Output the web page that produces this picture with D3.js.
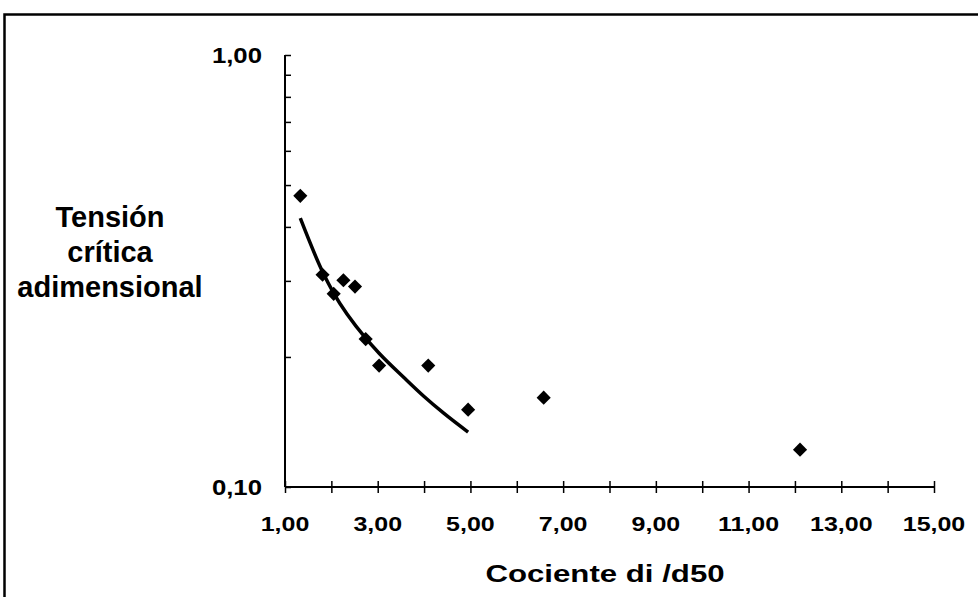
<!DOCTYPE html>
<html>
<head>
<meta charset="utf-8">
<script src="https://cdn.jsdelivr.net/npm/d3@7"></script>
<style>
  body { margin: 0; background: #fff; }
  text { font-family: Arial, "Liberation Sans", sans-serif; font-weight: bold; fill: #000; }
</style>
</head>
<body>
<script>
// measured points (cociente di/d50, tension critica adimensional)
const ratioX = [1.33, 1.81, 2.05, 2.26, 2.51, 2.74, 3.03, 4.09, 4.95, 6.58, 12.11];
const tensionY = [0.472, 0.310, 0.280, 0.301, 0.291, 0.220, 0.191, 0.191, 0.151, 0.161, 0.122];

// trend line
const trendX = [1.33, 1.81, 2.05, 2.74, 3.03, 3.57, 4.00, 4.43, 4.95];
const trendY = [0.419, 0.315, 0.281, 0.221, 0.204, 0.179, 0.162, 0.148, 0.134];

const xTicks = [1, 2, 3, 4, 5, 6, 7, 8, 9, 10, 11, 12, 13, 14, 15];
const xLabels = ["1,00", "", "3,00", "", "5,00", "", "7,00", "", "9,00", "", "11,00", "", "13,00", "", "15,00"];
const yTicks = [0.1, 0.2, 0.3, 0.4, 0.5, 0.6, 0.7, 0.8, 0.9, 1.0];
const yLabels = ["0,10", "", "", "", "", "", "", "", "", "1,00"];

let WIDTH = 978,
    HEIGHT = 597;

let svg = d3.select("body").append("svg")
  .attr("width", WIDTH)
  .attr("height", HEIGHT);

// frame (only top and left edges show)
svg.append("path")
  .attr("d", "M4.5," + HEIGHT + " V14.5 H" + WIDTH)
  .attr("fill", "none")
  .attr("stroke", "#000")
  .attr("stroke-width", 2.5);

let x = d3.scaleLinear().domain([1, 15]).range([285, 934]);
let y = d3.scaleLog().domain([0.1, 1]).range([487, 55]);

// x axis
let xAxis = svg.append("g")
  .attr("transform", "translate(0," + y(0.1) + ")")
  .call(d3.axisBottom(x).tickValues(xTicks).tickSize(6).tickFormat(""));
xAxis.select(".domain").attr("stroke-width", 2).attr("d", "M" + x(1) + ",0H" + x(15));
xAxis.selectAll(".tick line").attr("y1", -6).attr("stroke-width", 1.5);

xAxis.selectAll(".xlab")
  .data(xTicks)
  .enter().append("text")
    .attr("class", "xlab")
    .attr("transform", d => "translate(" + x(d) + ",44) scale(1.25,1)")
    .attr("text-anchor", "middle")
    .style("font-size", "20px")
    .text((d, i) => xLabels[i]);

// y axis
let yAxis = svg.append("g")
  .attr("transform", "translate(" + x(1) + ",0)")
  .call(d3.axisLeft(y).tickValues(yTicks).tickSize(6).tickFormat(""));
yAxis.select(".domain").attr("stroke-width", 2).attr("d", "M0," + y(0.1) + "V" + y(1));
yAxis.selectAll(".tick line").attr("x2", 6).attr("stroke-width", 1.5);

yAxis.selectAll(".ylab")
  .data(yTicks)
  .enter().append("text")
    .attr("class", "ylab")
    .attr("transform", d => "translate(-23," + (y(d) + 8) + ") scale(1.12,1)")
    .attr("text-anchor", "end")
    .style("font-size", "23px")
    .text((d, i) => yLabels[i]);

// axis titles
let yTitle = svg.append("text")
  .attr("text-anchor", "middle")
  .style("font-size", "29px");
["Tensión", "crítica", "adimensional"].forEach((t, i) => {
  yTitle.append("tspan")
    .attr("x", 110)
    .attr("y", 227 + i * 35)
    .text(t);
});

svg.append("text")
  .attr("transform", "translate(605,582) scale(1.3,1)")
  .attr("text-anchor", "middle")
  .style("font-size", "24px")
  .text("Cociente di /d50");

// trend line
let line = d3.line()
  .x(d => x(d[0]))
  .y(d => y(d[1]))
  .curve(d3.curveMonotoneX);

svg.append("path")
  .datum(d3.zip(trendX, trendY))
  .attr("d", line)
  .attr("fill", "none")
  .attr("stroke", "#000")
  .attr("stroke-width", 3.5);

// points
svg.selectAll(".pt")
  .data(d3.zip(ratioX, tensionY))
  .enter().append("path")
    .attr("class", "pt")
    .attr("d", d3.symbol().type(d3.symbolSquare).size(100))
    .attr("transform", d => "translate(" + x(d[0]) + "," + y(d[1]) + ") rotate(45)")
    .attr("fill", "#000");
</script>
</body>
</html>
